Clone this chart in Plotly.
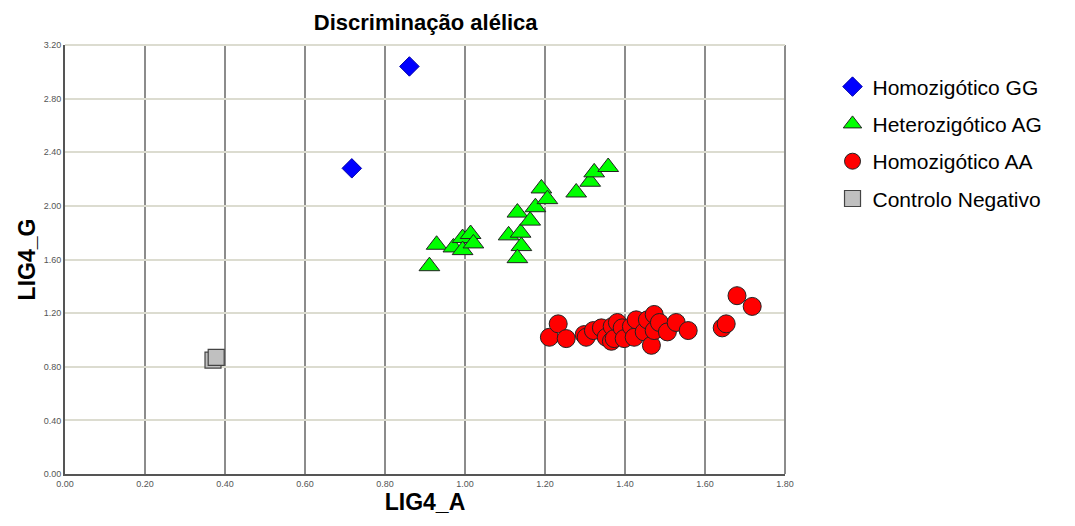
import plotly.graph_objects as go

# Homozigótico GG
gg_x = [0.861, 0.717]
gg_y = [3.04, 2.28]

# Heterozigótico AG
ag_x = [0.911, 0.929, 0.971, 0.994, 0.994, 1.014, 1.021, 1.109, 1.131, 1.139,
        1.141, 1.131, 1.163, 1.176, 1.191, 1.206, 1.278, 1.313, 1.323, 1.358]
ag_y = [1.55, 1.71, 1.69, 1.76, 1.67, 1.79, 1.72, 1.78, 1.95, 1.80,
        1.70, 1.61, 1.89, 1.99, 2.13, 2.05, 2.10, 2.18, 2.25, 2.29]

# Homozigótico AA
aa_x = [1.211, 1.233, 1.253, 1.298, 1.303, 1.321, 1.341, 1.353, 1.366, 1.368,
        1.373, 1.381, 1.393, 1.398, 1.416, 1.423, 1.428, 1.448, 1.456, 1.466,
        1.473, 1.473, 1.486, 1.506, 1.528, 1.558, 1.643, 1.653, 1.680, 1.718]
aa_y = [1.02, 1.12, 1.01, 1.04, 1.02, 1.07, 1.09, 1.02, 0.99, 1.10,
        1.01, 1.13, 1.09, 1.01, 1.10, 1.02, 1.15, 1.06, 1.15, 0.96,
        1.19, 1.07, 1.13, 1.06, 1.13, 1.07, 1.09, 1.12, 1.33, 1.25]

# Controlo Negativo
neg_x = [0.370, 0.378]
neg_y = [0.85, 0.87]

x_ticks = [0.0, 0.2, 0.4, 0.6, 0.8, 1.0, 1.2, 1.4, 1.6, 1.8]
y_ticks = [0.0, 0.4, 0.8, 1.2, 1.6, 2.0, 2.4, 2.8, 3.2]

outline = dict(color="#222222", width=1)

fig = go.Figure()
fig.add_trace(go.Scatter(x=gg_x, y=gg_y, mode="markers", name="Homozigótico GG", legendgroup="gg",
                         marker=dict(symbol="diamond", size=15, color="#0000ff", line=dict(color="#0000aa", width=1))))
fig.add_trace(go.Scatter(x=ag_x, y=ag_y, mode="markers", name="Heterozigótico AG", legendgroup="ag",
                         marker=dict(symbol="triangle-up", size=18, color="#00ff00", line=outline)))
fig.add_trace(go.Scatter(x=aa_x, y=aa_y, mode="markers", name="Homozigótico AA", legendgroup="aa",
                         marker=dict(symbol="circle", size=18, color="#ff0000", line=outline)))
fig.add_trace(go.Scatter(x=neg_x, y=neg_y, mode="markers", name="Controlo Negativo", legendgroup="neg",
                         marker=dict(symbol="square", size=16, color="#c0c0c0", line=dict(color="#444444", width=1.2))))

tickfont = dict(family="Liberation Sans Narrow, Arial Narrow, Liberation Sans, Arial", size=9, color="#555555")

fig.update_layout(
    width=1075, height=526,
    margin=dict(l=65, r=290, t=45, b=52),
    paper_bgcolor="white", plot_bgcolor="white",
    title=dict(text="<b>Discriminação alélica</b>", x=0.396, xanchor="center",
               y=0.958, yanchor="middle",
               font=dict(family="Liberation Sans, Arial", size=22, color="black")),
    xaxis=dict(range=[0, 1.8], tickvals=x_ticks, ticktext=[f"{v:.2f}" for v in x_ticks],
               tickfont=tickfont, showgrid=True, gridcolor="#8c8c8c", gridwidth=2,
               showline=True, linecolor="#555555", linewidth=2, mirror=False,
               zeroline=False, ticks="", ticklen=0,
               title=dict(text="<b>LIG4_A</b>", font=dict(family="Liberation Sans, Arial", size=23, color="black"),
                          standoff=6)),
    yaxis=dict(range=[0, 3.2], tickvals=y_ticks, ticktext=[f"{v:.2f}" for v in y_ticks],
               tickfont=tickfont, showgrid=True, gridcolor="#dcdcd0", gridwidth=2,
               showline=True, linecolor="#555555", linewidth=2,
               zeroline=False, ticks="",
               title=dict(text="<b>LIG4_G</b>", font=dict(family="Liberation Sans, Arial", size=23, color="black"),
                          standoff=2)),
    legend=dict(x=1.066, y=0.95, xanchor="left", yanchor="top",
                font=dict(family="Liberation Sans, Arial", size=21, color="black"),
                bgcolor="rgba(0,0,0,0)", itemsizing="trace", tracegroupgap=7),
    shapes=[
        dict(type="line", xref="paper", yref="paper", x0=1, x1=1, y0=0, y1=1,
             line=dict(color="#8c8c8c", width=2)),
        dict(type="line", xref="paper", yref="paper", x0=0, x1=1, y0=1, y1=1,
             line=dict(color="#dcdcd0", width=2)),
    ],
)

fig.write_html("out.html")
